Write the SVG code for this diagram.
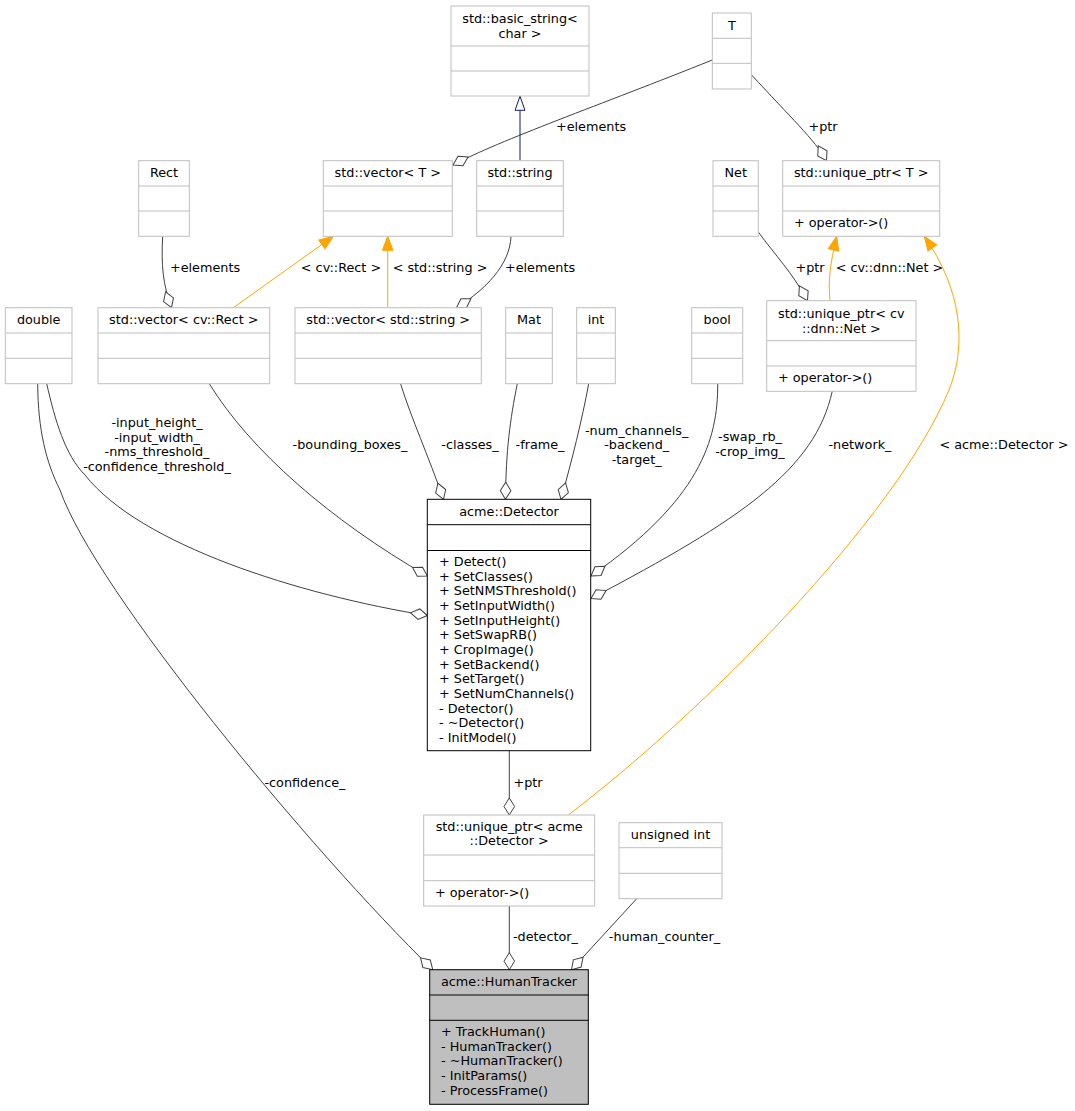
<svg xmlns="http://www.w3.org/2000/svg" width="1075" height="1111" viewBox="0 0 1075 1111">
<style>
text{font-family:"DejaVu Sans","Liberation Sans",sans-serif;font-size:12.8px;fill:#000}
.c{text-anchor:middle}
.n rect,.n line{fill:#fff;stroke:#bfbfbf;stroke-width:1}
.k rect,.k line{fill:#fff;stroke:#000;stroke-width:1}
.h rect{fill:#bfbfbf}
.e{fill:none;stroke:#404040;stroke-width:1;marker-end:url(#dia)}
.o{fill:none;stroke:#ffa500;stroke-width:1;marker-end:url(#arr)}
.b{fill:none;stroke:#191970;stroke-width:1;marker-end:url(#tri)}
</style>
<defs>
<marker id="dia" markerUnits="userSpaceOnUse" orient="auto" viewBox="-18 -6 19 12" markerWidth="19" markerHeight="12" refX="0" refY="0" overflow="visible"><path d="M0,0 L-8.5,-5.3 L-17,0 L-8.5,5.3 Z" fill="#fff" stroke="#404040" stroke-width="1"/></marker>
<marker id="arr" markerUnits="userSpaceOnUse" orient="auto" viewBox="-15 -6 16 12" markerWidth="16" markerHeight="12" refX="0" refY="0" overflow="visible"><path d="M0,0 L-14,-5.3 L-14,5.3 Z" fill="#ffa500" stroke="#ffa500" stroke-width="1"/></marker>
<marker id="tri" markerUnits="userSpaceOnUse" orient="auto" viewBox="-15 -6 16 12" markerWidth="16" markerHeight="12" refX="0" refY="0" overflow="visible"><path d="M0,0 L-14,-5 L-14,5 Z" fill="#fff" stroke="#191970" stroke-width="1"/></marker>
</defs>
<rect width="1075" height="1111" fill="#fff"/>

<g id="connectors">
<path class="e" d="M712.3,60 C600,105 500,140 453,165"/>
<text class="c" x="591" y="131">+elements</text>
<path class="b" d="M520,160.7 L520,96.3"/>
<path class="e" d="M751.7,75 C790,117 815,140 826.5,160.7"/>
<text class="c" x="823" y="131">+ptr</text>
<path class="e" d="M162.7,236.3 C161,265 163,285 171.5,307.7"/>
<text class="c" x="205" y="272">+elements</text>
<path class="o" d="M233.3,307.7 L333.3,236.3"/>
<text class="c" x="341" y="272">&lt; cv::Rect &gt;</text>
<path class="o" d="M387.7,307.7 L387.7,236.3"/>
<text class="c" x="440" y="272">&lt; std::string &gt;</text>
<path class="e" d="M511,236.3 C510,265 485,290 456.5,307.7"/>
<text class="c" x="540" y="272">+elements</text>
<path class="e" d="M758.3,232 C775,255 792,272 807.5,300.7"/>
<text class="c" x="810" y="272">+ptr</text>
<path class="o" d="M830,300.7 C828,280 830,265 836.7,236.3"/>
<text class="c" x="889.5" y="272">&lt; cv::dnn::Net &gt;</text>
<path class="o" d="M568.3,815 C700,715 895,520 949,390 C967,345 962,290 924.3,236.3"/>
<text class="c" x="1004" y="449">&lt; acme::Detector &gt;</text>
<path class="e" d="M46.7,383.7 C55,420 65,455 85,475 C140,545 300,595 427.3,615.5"/>
<text class="c" x="157" y="427">-input_height_</text>
<text class="c" x="157" y="441.7">-input_width_</text>
<text class="c" x="157" y="456.3">-nms_threshold_</text>
<text class="c" x="157" y="471">-confidence_threshold_</text>
<path class="e" d="M209.3,383.7 C250,450 330,520 427.3,576"/>
<text class="c" x="350" y="449">-bounding_boxes_</text>
<path class="e" d="M400.5,383.7 C412,420 428,455 443.5,499.3"/>
<text class="c" x="470" y="449">-classes_</text>
<path class="e" d="M517.3,383.7 C510,420 506,450 505.5,499.3"/>
<text class="c" x="540" y="449">-frame_</text>
<path class="e" d="M588.7,383.7 C582,420 572,460 561,499.3"/>
<text class="c" x="636.7" y="434.5">-num_channels_</text>
<text class="c" x="636.7" y="449.2">-backend_</text>
<text class="c" x="636.7" y="463.8">-target_</text>
<path class="e" d="M717.7,383.7 C718,440 700,500 591,576"/>
<text class="c" x="750" y="441.4">-swap_rb_</text>
<text class="c" x="750" y="456">-crop_img_</text>
<path class="e" d="M832.3,391 C815,470 740,520 591,598.5"/>
<text class="c" x="860" y="449">-network_</text>
<path class="e" d="M509.3,750.7 L509.3,815"/>
<text class="c" x="528" y="787">+ptr</text>
<path class="e" d="M37.7,383.7 C38,430 46,462 60,490 C95,590 310,850 432.7,969.7"/>
<text class="c" x="305" y="787">-confidence_</text>
<path class="e" d="M509.3,906 L509.3,969.7"/>
<text class="c" x="545.5" y="941">-detector_</text>
<path class="e" d="M636.7,898.7 L571.5,969.7"/>
<text class="c" x="664.5" y="941">-human_counter_</text>
</g>

<g id="basic_string" class="n">
<rect x="451" y="6" width="138" height="90"/>
<line x1="451" y1="46" x2="589" y2="46"/><line x1="451" y1="71" x2="589" y2="71"/>
<text class="c" x="520" y="23">std::basic_string&lt;</text>
<text class="c" x="520" y="37.7">char &gt;</text>
</g>
<g id="T" class="n">
<rect x="712.3" y="13" width="39" height="76"/>
<line x1="712.3" y1="38.3" x2="751.3" y2="38.3"/><line x1="712.3" y1="63.3" x2="751.3" y2="63.3"/>
<text class="c" x="731.8" y="29.5">T</text>
</g>
<g id="vector_T" class="n">
<rect x="323.3" y="160.7" width="129" height="75.6"/>
<line x1="323.3" y1="186" x2="452.3" y2="186"/><line x1="323.3" y1="211" x2="452.3" y2="211"/>
<text class="c" x="387.8" y="177.2">std::vector&lt; T &gt;</text>
</g>
<g id="std_string" class="n">
<rect x="476.7" y="160.7" width="86.6" height="75.6"/>
<line x1="476.7" y1="186" x2="563.3" y2="186"/><line x1="476.7" y1="211" x2="563.3" y2="211"/>
<text class="c" x="520" y="177.2">std::string</text>
</g>
<g id="Rect" class="n">
<rect x="138.7" y="160.7" width="50.6" height="75.6"/>
<line x1="138.7" y1="186" x2="189.3" y2="186"/><line x1="138.7" y1="211" x2="189.3" y2="211"/>
<text class="c" x="164" y="177.2">Rect</text>
</g>
<g id="unique_ptr_T" class="n">
<rect x="782.7" y="160.7" width="157" height="75.6"/>
<line x1="782.7" y1="186" x2="939.7" y2="186"/><line x1="782.7" y1="211" x2="939.7" y2="211"/>
<text class="c" x="861.2" y="177.2">std::unique_ptr&lt; T &gt;</text>
<text x="794" y="227">+ operator-&gt;()</text>
</g>
<g id="Net" class="n">
<rect x="713" y="160.7" width="45.3" height="75.6"/>
<line x1="713" y1="186" x2="758.3" y2="186"/><line x1="713" y1="211" x2="758.3" y2="211"/>
<text class="c" x="735.7" y="177.2">Net</text>
</g>
<g id="unique_ptr_Net" class="n">
<rect x="766.7" y="300.7" width="149.3" height="90.6"/>
<line x1="766.7" y1="340.7" x2="916" y2="340.7"/><line x1="766.7" y1="366" x2="916" y2="366"/>
<text class="c" x="841.3" y="318">std::unique_ptr&lt; cv</text>
<text class="c" x="841.3" y="332.7">::dnn::Net &gt;</text>
<text x="778" y="382">+ operator-&gt;()</text>
</g>
<g id="double" class="n">
<rect x="5.3" y="307.7" width="66.7" height="76"/>
<line x1="5.3" y1="333" x2="72" y2="333"/><line x1="5.3" y1="358.3" x2="72" y2="358.3"/>
<text class="c" x="38.7" y="324.2">double</text>
</g>
<g id="vector_Rect" class="n">
<rect x="98" y="307.7" width="171.7" height="76"/>
<line x1="98" y1="333" x2="269.7" y2="333"/><line x1="98" y1="358.3" x2="269.7" y2="358.3"/>
<text class="c" x="183.8" y="324.2">std::vector&lt; cv::Rect &gt;</text>
</g>
<g id="vector_string" class="n">
<rect x="295" y="307.7" width="186.3" height="76"/>
<line x1="295" y1="333" x2="481.3" y2="333"/><line x1="295" y1="358.3" x2="481.3" y2="358.3"/>
<text class="c" x="388.2" y="324.2">std::vector&lt; std::string &gt;</text>
</g>
<g id="Mat" class="n">
<rect x="505.7" y="307.7" width="46.6" height="76"/>
<line x1="505.7" y1="333" x2="552.3" y2="333"/><line x1="505.7" y1="358.3" x2="552.3" y2="358.3"/>
<text class="c" x="529" y="324.2">Mat</text>
</g>
<g id="int" class="n">
<rect x="576.7" y="307.7" width="38.6" height="76"/>
<line x1="576.7" y1="333" x2="615.3" y2="333"/><line x1="576.7" y1="358.3" x2="615.3" y2="358.3"/>
<text class="c" x="596" y="324.2">int</text>
</g>
<g id="bool" class="n">
<rect x="691.7" y="307.7" width="51" height="76"/>
<line x1="691.7" y1="333" x2="742.7" y2="333"/><line x1="691.7" y1="358.3" x2="742.7" y2="358.3"/>
<text class="c" x="717.2" y="324.2">bool</text>
</g>
<g id="Detector" class="k">
<rect x="427.3" y="499.3" width="163.4" height="251.4"/>
<line x1="427.3" y1="524.7" x2="590.7" y2="524.7"/><line x1="427.3" y1="550.5" x2="590.7" y2="550.5"/>
<text class="c" x="509" y="515.8">acme::Detector</text>
<text x="439" y="566">+ Detect()</text>
<text x="439" y="580.7">+ SetClasses()</text>
<text x="439" y="595.3">+ SetNMSThreshold()</text>
<text x="439" y="610">+ SetInputWidth()</text>
<text x="439" y="624.7">+ SetInputHeight()</text>
<text x="439" y="639.3">+ SetSwapRB()</text>
<text x="439" y="654">+ CropImage()</text>
<text x="439" y="668.7">+ SetBackend()</text>
<text x="439" y="683.3">+ SetTarget()</text>
<text x="439" y="698">+ SetNumChannels()</text>
<text x="439" y="712.7">- Detector()</text>
<text x="439" y="727.3">- ~Detector()</text>
<text x="439" y="742">- InitModel()</text>
</g>
<g id="unique_ptr_Detector" class="n">
<rect x="423.7" y="815" width="171" height="91"/>
<line x1="423.7" y1="855" x2="594.7" y2="855"/><line x1="423.7" y1="880.7" x2="594.7" y2="880.7"/>
<text class="c" x="509.2" y="830.7">std::unique_ptr&lt; acme</text>
<text class="c" x="509.2" y="845.4">::Detector &gt;</text>
<text x="435" y="896.5">+ operator-&gt;()</text>
</g>
<g id="unsigned_int" class="n">
<rect x="619" y="822.7" width="103" height="76"/>
<line x1="619" y1="847.7" x2="722" y2="847.7"/><line x1="619" y1="873.3" x2="722" y2="873.3"/>
<text class="c" x="670.5" y="839">unsigned int</text>
</g>
<g id="HumanTracker" class="k h">
<rect x="429.7" y="969.7" width="158.6" height="134.6"/>
<line x1="429.7" y1="995" x2="588.3" y2="995"/><line x1="429.7" y1="1020.3" x2="588.3" y2="1020.3"/>
<text class="c" x="509" y="986.3">acme::HumanTracker</text>
<text x="441" y="1036">+ TrackHuman()</text>
<text x="441" y="1050.7">- HumanTracker()</text>
<text x="441" y="1065.3">- ~HumanTracker()</text>
<text x="441" y="1080">- InitParams()</text>
<text x="441" y="1094.7">- ProcessFrame()</text>
</g>
</svg>
